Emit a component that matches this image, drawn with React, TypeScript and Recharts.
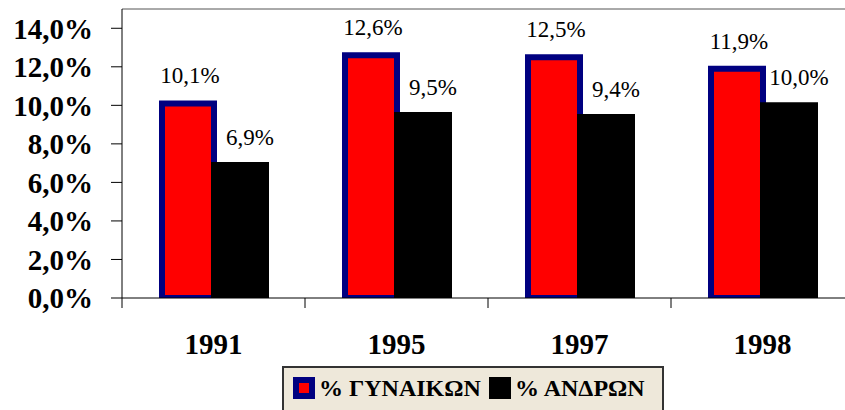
import React from 'react';
import { BarChart, Bar, XAxis, YAxis, LabelList, ReferenceLine } from 'recharts';

const years = ['1991', '1995', '1997', '1998'];
const women = [10.1, 12.6, 12.5, 11.9];
const men = [6.9, 9.5, 9.4, 10.0];
const yTicks = [0, 2, 4, 6, 8, 10, 12, 14];
const xTicks = [0, 0.5, 1, 1.5, 2, 2.5, 3, 3.5, 4];
const seriesNames = ['% ΓΥΝΑΙΚΩΝ', '% ΑΝΔΡΩΝ'];

const data = years.map((y, i) => ({ year: y, women: women[i], men: men[i], idx: i + 0.5 }));

const SERIF = '"Liberation Serif", "Times New Roman", serif';
const fmt = (v: number) => v.toFixed(1).replace('.', ',') + '%';

const makeLabel = (dx: number) => (props: any) => {
  const { x, y, width, value } = props;
  return (
    <text
      x={Number(x) + Number(width) / 2 + dx}
      y={Number(y) - 20}
      textAnchor="middle"
      fontFamily={SERIF}
      fontSize={23}
      fill="#000"
    >
      {fmt(Number(value))}
    </text>
  );
};

const XTick = (props: any) => {
  const { x, y, payload } = props;
  const v = Number(payload.value);
  if (Number.isInteger(v)) {
    return <line x1={x} x2={x} y1={y} y2={y + 10} stroke="#000" strokeWidth={1} />;
  }
  const label = years[Math.floor(v)];
  return (
    <text x={x} y={y + 56} textAnchor="middle" fontFamily={SERIF} fontSize={29} fontWeight="bold" fill="#000">
      {label}
    </text>
  );
};

export default function App() {
  return (
    <div style={{ position: 'absolute', left: 0, top: 0, width: 845, height: 410, overflow: 'hidden', background: '#fff' }}>
      <BarChart
        width={870}
        height={410}
        data={data}
        margin={{ top: 9, right: 16, bottom: 52, left: 0 }}
        barGap={0}
      >
        <XAxis
          xAxisId="num"
          type="number"
          dataKey="idx"
          domain={[0, 4]}
          ticks={xTicks}
          interval={0}
          allowDataOverflow
          tick={<XTick />}
          tickLine={false}
          tickSize={0}
          tickMargin={0}
          axisLine={{ stroke: '#000' }}
          height={60}
        />
        <XAxis xAxisId="cat" dataKey="year" hide height={0} />
        <YAxis
          domain={[0, 15]}
          ticks={yTicks}
          allowDataOverflow
          width={122}
          tickSize={11}
          tickMargin={18}
          tickFormatter={fmt}
          axisLine={{ stroke: '#000' }}
          tickLine={{ stroke: '#000' }}
          tick={{ fontFamily: SERIF, fontSize: 29, fontWeight: 'bold', fill: '#000' }}
        />
        <ReferenceLine y={15} xAxisId="cat" stroke="#555" strokeWidth={1} />
        <Bar xAxisId="cat" dataKey="women" name={seriesNames[0]} fill="#FF0000" stroke="#000080" strokeWidth={6} barSize={52} isAnimationActive={false}>
          <LabelList dataKey="women" content={makeLabel(2)} />
        </Bar>
        <Bar xAxisId="cat" dataKey="men" name={seriesNames[1]} fill="#000000" stroke="#000000" strokeWidth={6} barSize={52} isAnimationActive={false}>
          <LabelList dataKey="men" content={makeLabel(10)} />
        </Bar>
      </BarChart>
      <div
        style={{
          position: 'absolute',
          left: 282,
          top: 366,
          width: 382,
          height: 60,
          boxSizing: 'border-box',
          background: '#EEE8DA',
          border: '2px solid #333',
        }}
      >
        {seriesNames.map((name, i) => (
          <React.Fragment key={name}>
            <div
              style={{
                position: 'absolute',
                left: i === 0 ? 9 : 205,
                top: 9,
                width: 22,
                height: 22,
                boxSizing: 'border-box',
                background: i === 0 ? '#FF0000' : '#000',
                border: i === 0 ? '6px solid #000080' : 'none',
              }}
            />
            <div
              style={{
                position: 'absolute',
                left: i === 0 ? 35 : 231,
                top: 6,
                height: 28,
                lineHeight: '28px',
                fontFamily: SERIF,
                fontWeight: 'bold',
                fontSize: 24,
                color: '#000',
                whiteSpace: 'nowrap',
              }}
            >
              {name}
            </div>
          </React.Fragment>
        ))}
      </div>
    </div>
  );
}
